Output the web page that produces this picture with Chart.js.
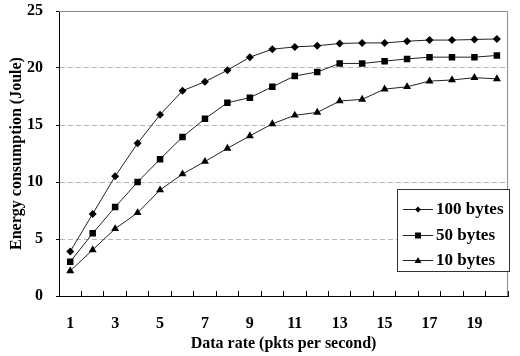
<!DOCTYPE html>
<html>
<head>
<meta charset="utf-8">
<script src="https://cdn.jsdelivr.net/npm/chart.js@4.4.0/dist/chart.umd.min.js"></script>
<style>
  html, body { margin: 0; padding: 0; background: #fff; }
  #wrap { width: 520px; height: 356px; }
</style>
</head>
<body>
<div id="wrap"><canvas id="line-chart" width="520" height="356"></canvas></div>
<script>
// data rate categories (pkts per second)
const rates = ["1", "2", "3", "4", "5", "6", "7", "8", "9", "10",
  "11", "12", "13", "14", "15", "16", "17", "18", "19", "20"];

// energy consumption (Joule) per packet size
const bytes100 = [3.9, 7.2, 10.5, 13.4, 15.9, 18.0, 18.8, 19.8, 20.95, 21.65,
  21.85, 21.95, 22.15, 22.2, 22.2, 22.35, 22.45, 22.45, 22.5, 22.55];
const bytes50 = [3.0, 5.5, 7.8, 10.0, 12.0, 13.95, 15.55, 16.95, 17.4, 18.35,
  19.3, 19.65, 20.4, 20.4, 20.6, 20.8, 20.95, 20.95, 20.95, 21.1];
const bytes10 = [2.2, 4.05, 5.9, 7.3, 9.3, 10.7, 11.8, 12.95, 14.05, 15.1,
  15.85, 16.1, 17.1, 17.25, 18.15, 18.35, 18.85, 18.95, 19.15, 19.05];

const serif = "'Liberation Serif', 'Times New Roman', serif";

// gray frame on top and right of plot area
const plotFrame = {
  id: "plotFrame",
  beforeDatasetsDraw(chart) {
    const { ctx, chartArea: a } = chart;
    ctx.save();
    ctx.strokeStyle = "#888";
    ctx.lineWidth = 1;
    ctx.beginPath();
    ctx.moveTo(a.left, a.top + 0.5);
    ctx.lineTo(a.right - 0.5, a.top + 0.5);
    ctx.lineTo(a.right - 0.5, a.bottom);
    ctx.stroke();
    ctx.restore();
  },
};

function smallMarker(ctx, style, x, y) {
  ctx.beginPath();
  if (style === "rectRot") {
    ctx.moveTo(x - 3, y); ctx.lineTo(x, y - 3); ctx.lineTo(x + 3, y); ctx.lineTo(x, y + 3);
  } else if (style === "rect") {
    ctx.rect(x - 3, y - 3, 6, 6);
  } else {
    ctx.moveTo(x, y - 3.5); ctx.lineTo(x + 3.5, y + 2.5); ctx.lineTo(x - 3.5, y + 2.5);
  }
  ctx.closePath();
  ctx.fill();
}

// boxed legend inside the plot
const boxLegend = {
  id: "boxLegend",
  afterDraw(chart) {
    const { ctx } = chart;
    const bx = 397, by = 189, bw = 112, bh = 82;
    ctx.save();
    ctx.fillStyle = "#fff";
    ctx.fillRect(bx, by, bw, bh);
    ctx.strokeStyle = "#333";
    ctx.lineWidth = 1;
    ctx.strokeRect(bx + 0.5, by + 0.5, bw, bh);
    chart.data.datasets.forEach((ds, i) => {
      const y = 209 + i * 25.5;
      ctx.strokeStyle = "#222";
      ctx.beginPath();
      ctx.moveTo(403, Math.round(y) + 0.5);
      ctx.lineTo(433, Math.round(y) + 0.5);
      ctx.stroke();
      ctx.fillStyle = "#000";
      smallMarker(ctx, ds.pointStyle, 418, Math.round(y) + 0.5);
      ctx.font = "bold 17px " + serif;
      ctx.textBaseline = "middle";
      ctx.textAlign = "left";
      ctx.fillText(ds.label, 436, y + 1);
    });
    ctx.restore();
  },
};

new Chart(document.getElementById("line-chart"), {
  type: "line",
  data: {
    labels: rates,
    datasets: [
      { label: "100 bytes", data: bytes100, pointStyle: "rectRot", pointRadius: 4 },
      { label: "50 bytes", data: bytes50, pointStyle: "rect", pointRadius: 4.6 },
      { label: "10 bytes", data: bytes10, pointStyle: "triangle", pointRadius: 4.6 },
    ].map((d) => ({
      ...d,
      borderColor: "#222",
      borderWidth: 1,
      backgroundColor: "#000",
      pointBackgroundColor: "#000",
      pointBorderColor: "#000",
      pointBorderWidth: 0,
      tension: 0,
      fill: false,
    })),
  },
  options: {
    responsive: false,
    animation: false,
    events: [],
    layout: { padding: { top: 0, right: 1, left: 0, bottom: 0 } },
    plugins: {
      legend: { display: false },
      tooltip: { enabled: false },
    },
    scales: {
      x: {
        offset: true,
        grid: {
          offset: true,
          drawOnChartArea: false,
          tickLength: -5,
          tickColor: "#000",
          color: "#000",
        },
        border: { color: "#000", width: 1 },
        ticks: {
          autoSkip: false,
          maxRotation: 0,
          padding: 23,
          color: "#000",
          font: { family: serif, size: 16, weight: "bold" },
          callback: (v, i) => (i % 2 === 0 ? rates[i] : ""),
        },
        title: {
          display: true,
          text: "Data rate (pkts per second)",
          color: "#000",
          font: { family: serif, size: 16, weight: "bold" },
          padding: { top: 0, bottom: 3 },
        },
        afterFit: (s) => { s.height = 60; },
      },
      y: {
        min: 0,
        max: 25,
        ticks: {
          stepSize: 5,
          padding: 13,
          color: "#000",
          font: { family: serif, size: 16, weight: "bold" },
        },
        grid: {
          tickLength: 3,
          tickColor: "#000",
          color: (c) => (c.tick && (c.tick.value === 0 || c.tick.value === 25) ? "rgba(0,0,0,0)" : "#b4b4b4"),
        },
        border: { color: "#000", width: 1, dash: [5, 3] },
        title: {
          display: true,
          text: "Energy consumption (Joule)",
          color: "#000",
          font: { family: serif, size: 16, weight: "bold" },
          padding: { top: 7, bottom: 0 },
        },
        afterFit: (s) => {
          s.width = 59;
          s.paddingTop = 11;
          s.paddingBottom = 0;
        },
      },
    },
  },
  plugins: [plotFrame, boxLegend],
});
</script>
</body>
</html>
